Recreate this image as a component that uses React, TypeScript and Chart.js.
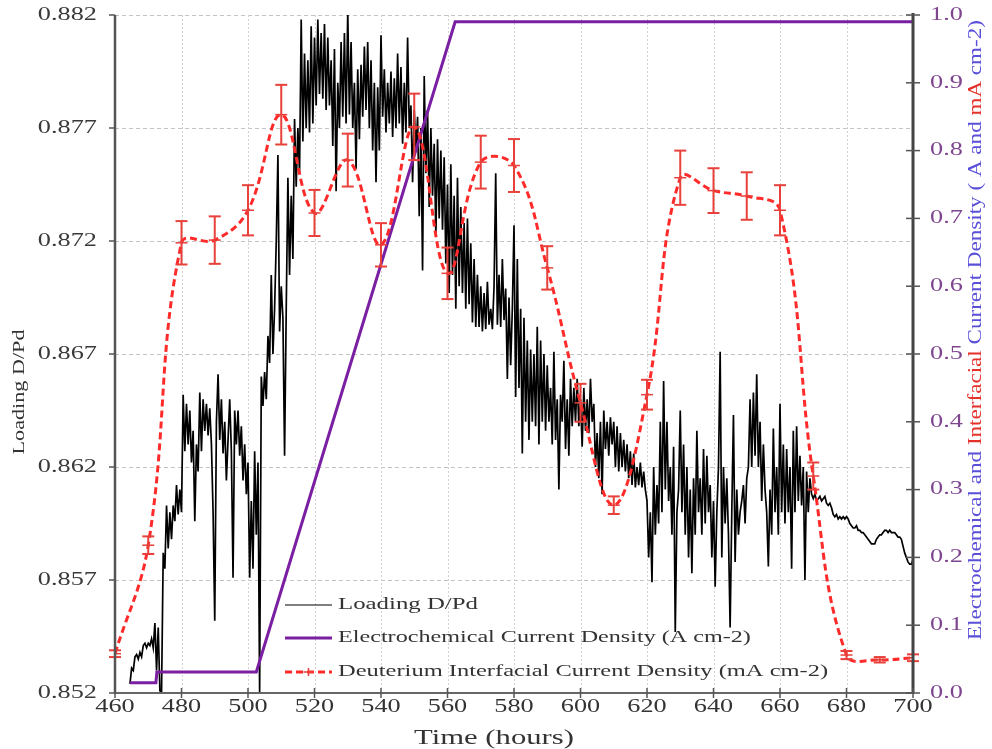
import { useEffect, useRef } from 'react';
import { Chart, registerables } from 'chart.js';

Chart.register(...registerables);

// ---- axis ticks ----
const TIME_TICKS = [460, 480, 500, 520, 540, 560, 580, 600, 620, 640, 660, 680, 700];
const LOADING_TICKS = [0.852, 0.857, 0.862, 0.867, 0.872, 0.877, 0.882];
const CURRENT_TICKS = [0, 0.1, 0.2, 0.3, 0.4, 0.5, 0.6, 0.7, 0.8, 0.9, 1.0];

// ---- Loading D/Pd, sampled every half hour from 464.5 h ----
const LOADING_START = 464.5;
const LOADING_STEP = 0.5;
const LOADING = [
  0.8524,
  /* 465 */ 0.8531, 0.8530, 0.8536, 0.8537, 0.8535, 0.8538, 0.8536, 0.8541, 0.8542, 0.8540,
  /* 470 */ 0.8542, 0.8541, 0.8544, 0.8540, 0.8551, 0.8530, 0.8549, 0.8521, 0.8520, 0.8582,
  /* 475 */ 0.8575, 0.8603, 0.8584, 0.8600, 0.8588, 0.8603, 0.8596, 0.8612, 0.8599, 0.8610,
  /* 480 */ 0.8600, 0.8652, 0.8627, 0.8648, 0.8630, 0.8645, 0.8622, 0.8636, 0.8596, 0.8630,
  /* 485 */ 0.8618, 0.8653, 0.8627, 0.8650, 0.8636, 0.8648, 0.8634, 0.8646, 0.8630, 0.8600,
  /* 490 */ 0.8552, 0.8640, 0.8661, 0.8632, 0.8650, 0.8626, 0.8640, 0.8614, 0.8632, 0.8650,
  /* 495 */ 0.8627, 0.8571, 0.8645, 0.8630, 0.8645, 0.8625, 0.8638, 0.8614, 0.8630, 0.8608,
  /* 500 */ 0.8622, 0.8571, 0.8605, 0.8575, 0.8627, 0.8590, 0.8622, 0.8520, 0.8660, 0.8647,
  /* 505 */ 0.8662, 0.8650, 0.8678, 0.8666, 0.8705, 0.8670, 0.8690, 0.8720, 0.8758, 0.8680,
  /* 510 */ 0.8700, 0.8686, 0.8625, 0.8690, 0.8748, 0.8705, 0.8740, 0.8712, 0.8774, 0.8744,
  /* 515 */ 0.8770, 0.8750, 0.8818, 0.8764, 0.8803, 0.8770, 0.8800, 0.8768, 0.8815, 0.8772,
  /* 520 */ 0.8810, 0.8780, 0.8818, 0.8785, 0.8812, 0.8783, 0.8816, 0.8778, 0.8810, 0.8780,
  /* 525 */ 0.8800, 0.8762, 0.8805, 0.8742, 0.8790, 0.8770, 0.8808, 0.8775, 0.8812, 0.8772,
  /* 530 */ 0.8822, 0.8776, 0.8808, 0.8770, 0.8790, 0.8752, 0.8796, 0.8765, 0.8798, 0.8775,
  /* 535 */ 0.8806, 0.8778, 0.8808, 0.8770, 0.8800, 0.8760, 0.8790, 0.8746, 0.8788, 0.8760,
  /* 540 */ 0.8811, 0.8775, 0.8796, 0.8768, 0.8790, 0.8772, 0.8795, 0.8766, 0.8792, 0.8770,
  /* 545 */ 0.8803, 0.8772, 0.8797, 0.8763, 0.8790, 0.8768, 0.8810, 0.8770, 0.8780, 0.8746,
  /* 550 */ 0.8778, 0.8760, 0.8775, 0.8731, 0.8770, 0.8707, 0.8793, 0.8750, 0.8778, 0.8735,
  /* 555 */ 0.8770, 0.8740, 0.8763, 0.8722, 0.8765, 0.8730, 0.8760, 0.8725, 0.8757, 0.8710,
  /* 560 */ 0.8745, 0.8697, 0.8754, 0.8705, 0.8740, 0.8690, 0.8748, 0.8700, 0.8735, 0.8697,
  /* 565 */ 0.8728, 0.8690, 0.8730, 0.8692, 0.8719, 0.8684, 0.8712, 0.8682, 0.8705, 0.8682,
  /* 570 */ 0.8700, 0.8680, 0.8697, 0.8681, 0.8702, 0.8683, 0.8690, 0.8681, 0.8700, 0.8750,
  /* 575 */ 0.8683, 0.8705, 0.8682, 0.8712, 0.8685, 0.8699, 0.8659, 0.8695, 0.8665, 0.8690,
  /* 580 */ 0.8727, 0.8651, 0.8712, 0.8655, 0.8690, 0.8626, 0.8686, 0.8640, 0.8676, 0.8632,
  /* 585 */ 0.8672, 0.8640, 0.8670, 0.8638, 0.8682, 0.8630, 0.8676, 0.8640, 0.8670, 0.8636,
  /* 590 */ 0.8665, 0.8640, 0.8655, 0.8630, 0.8671, 0.8632, 0.8650, 0.8610, 0.8652, 0.8640,
  /* 595 */ 0.8667, 0.8628, 0.8650, 0.8625, 0.8659, 0.8638, 0.8655, 0.8640, 0.8659, 0.8638,
  /* 600 */ 0.8650, 0.8629, 0.8655, 0.8636, 0.8650, 0.8635, 0.8659, 0.8640, 0.8648, 0.8620,
  /* 605 */ 0.8635, 0.8615, 0.8640, 0.8608, 0.8645, 0.8628, 0.8640, 0.8625, 0.8642, 0.8630,
  /* 610 */ 0.8640, 0.8620, 0.8638, 0.8618, 0.8635, 0.8620, 0.8632, 0.8618, 0.8630, 0.8615,
  /* 615 */ 0.8627, 0.8612, 0.8626, 0.8611, 0.8620, 0.8612, 0.8622, 0.8611, 0.8618, 0.8610,
  /* 620 */ 0.8605, 0.8580, 0.8600, 0.8569, 0.8620, 0.8590, 0.8612, 0.8595, 0.8640, 0.8600,
  /* 625 */ 0.8658, 0.8610, 0.8640, 0.8605, 0.8620, 0.8590, 0.8629, 0.8547, 0.8600, 0.8610,
  /* 630 */ 0.8645, 0.8600, 0.8630, 0.8590, 0.8620, 0.8580, 0.8610, 0.8573, 0.8615, 0.8590,
  /* 635 */ 0.8636, 0.8600, 0.8615, 0.8590, 0.8628, 0.8595, 0.8625, 0.8600, 0.8612, 0.8580,
  /* 640 */ 0.8605, 0.8567, 0.8600, 0.8620, 0.8671, 0.8580, 0.8620, 0.8595, 0.8615, 0.8590,
  /* 645 */ 0.8549, 0.8600, 0.8643, 0.8578, 0.8610, 0.8590, 0.8600, 0.8605, 0.8612, 0.8595,
  /* 650 */ 0.8615, 0.8620, 0.8650, 0.8620, 0.8653, 0.8625, 0.8661, 0.8620, 0.8640, 0.8605,
  /* 655 */ 0.8630, 0.8610, 0.8600, 0.8576, 0.8610, 0.8590, 0.8637, 0.8600, 0.8620, 0.8590,
  /* 660 */ 0.8648, 0.8600, 0.8630, 0.8595, 0.8628, 0.8600, 0.8620, 0.8575, 0.8636, 0.8600,
  /* 665 */ 0.8638, 0.8605, 0.8625, 0.8603, 0.8620, 0.8570, 0.8618, 0.8600, 0.8615, 0.8608,
  /* 670 */ 0.8606, 0.8608, 0.8605, 0.8606, 0.8607, 0.8605, 0.8606, 0.8607, 0.8604, 0.8603,
  /* 675 */ 0.8604, 0.8602, 0.8599, 0.8598, 0.8599, 0.8597, 0.8598, 0.8597, 0.8598, 0.8597,
  /* 680 */ 0.8598, 0.8597, 0.8595, 0.8594, 0.8593, 0.8593, 0.8594, 0.8592, 0.8592, 0.8591,
  /* 685 */ 0.8591, 0.8590, 0.8589, 0.8588, 0.8587, 0.8586, 0.8586, 0.8586, 0.8588, 0.8589,
  /* 690 */ 0.8590, 0.8590, 0.8591, 0.8592, 0.8592, 0.8591, 0.8592, 0.8591, 0.8591, 0.8591,
  /* 695 */ 0.8590, 0.8589, 0.8589, 0.8588, 0.8585, 0.8582, 0.8580, 0.8578, 0.8577, 0.8577,
  0.8579,
];

// ---- electrochemical current density (A cm-2) ----
const ELECTRO_TIME = [464.5, 472.3, 472.6, 502.5, 562.3, 700];
const ELECTRO_CURRENT = [0.015, 0.015, 0.031, 0.031, 0.99, 0.99];

// ---- deuterium interfacial current density (mA cm-2) with error ----
const INTERFACIAL_TIME = [460, 470, 480, 490, 500, 510, 520, 530, 540, 550, 560, 570, 580,
  590, 600, 610, 620, 630, 640, 650, 660, 670, 680, 690, 700];
const INTERFACIAL_CURRENT = [0.058, 0.218, 0.664, 0.668, 0.712, 0.853, 0.708, 0.786, 0.661,
  0.835, 0.619, 0.783, 0.778, 0.627, 0.428, 0.277, 0.440, 0.760, 0.741, 0.733, 0.712, 0.320,
  0.056, 0.049, 0.052];
const INTERFACIAL_ERROR = [0.005, 0.013, 0.032, 0.035, 0.037, 0.044, 0.034, 0.039, 0.032,
  0.049, 0.038, 0.039, 0.039, 0.032, 0.028, 0.013, 0.022, 0.040, 0.033, 0.035, 0.037, 0.020,
  0.006, 0.004, 0.005];

const SERIF = '"Liberation Serif", "Times New Roman", serif';
const TEXT_STRETCH = 1.46;
const RED = '#ff2a2a';
const BAR_RED = '#e8403a';
const PURPLE = '#7b1fa2';
const TICK_PURPLE = '#7f4690';
const TITLE_BLUE = '#5a50d8';
const TITLE_RED = '#e4322b';

type Ctx = CanvasRenderingContext2D;

function hText(ctx: Ctx, text: string, x: number, y: number, size: number, color: string,
  align: CanvasTextAlign, sx = TEXT_STRETCH) {
  ctx.save();
  ctx.translate(x, y);
  ctx.scale(sx, 1);
  ctx.font = `${size}px ${SERIF}`;
  ctx.fillStyle = color;
  ctx.textAlign = align;
  ctx.textBaseline = 'middle';
  ctx.fillText(text, 0, 0);
  ctx.restore();
}

// vertical text reading bottom-to-top, centred on (x, y), stretched to a given length
function vText(ctx: Ctx, parts: [string, string][], x: number, y: number, size: number, length: number) {
  ctx.save();
  ctx.font = `${size}px ${SERIF}`;
  const widths = parts.map(([t]) => ctx.measureText(t).width);
  const total = widths.reduce((a, b) => a + b, 0);
  ctx.translate(x, y);
  ctx.rotate(-Math.PI / 2);
  ctx.scale(length / total, 1);
  ctx.textAlign = 'left';
  ctx.textBaseline = 'middle';
  let pos = -total / 2;
  parts.forEach(([t, c], i) => {
    ctx.fillStyle = c;
    ctx.fillText(t, pos, 0);
    pos += widths[i];
  });
  ctx.restore();
}

function seg(ctx: Ctx, x1: number, y1: number, x2: number, y2: number) {
  ctx.beginPath();
  ctx.moveTo(x1, y1);
  ctx.lineTo(x2, y2);
  ctx.stroke();
}

const decorPlugin = {
  id: 'decor',
  beforeDatasetsDraw(chart: any) {
    const { ctx, chartArea: a, scales } = chart;
    const xs = scales.x;
    const yl = scales.y;
    ctx.save();
    ctx.lineWidth = 1;
    ctx.strokeStyle = '#c4c4c4';
    ctx.setLineDash([4, 3]);
    LOADING_TICKS.forEach((t) => {
      if (t === LOADING_TICKS[0]) return;
      const py = Math.round(yl.getPixelForValue(t)) + 0.5;
      seg(ctx, a.left, py, a.right, py);
    });
    ctx.strokeStyle = '#d2d2d2';
    ctx.setLineDash([2, 2]);
    TIME_TICKS.forEach((t, i) => {
      if (i === 0 || i === TIME_TICKS.length - 1) return;
      const px = Math.round(xs.getPixelForValue(t)) + 0.5;
      seg(ctx, px, a.top, px, a.bottom);
    });
    ctx.restore();
  },
  afterDatasetsDraw(chart: any) {
    const { ctx, chartArea: a, scales } = chart;
    const xs = scales.x;
    const yl = scales.y;
    const yr = scales.y1;

    // error bars on the interfacial current density
    const meta = chart.getDatasetMeta(0);
    ctx.save();
    ctx.strokeStyle = BAR_RED;
    ctx.lineWidth = 2;
    meta.data.forEach((el: any, i: number) => {
      const v = INTERFACIAL_CURRENT[i];
      const e = INTERFACIAL_ERROR[i];
      const top = yr.getPixelForValue(v + e);
      const bot = yr.getPixelForValue(v - e);
      seg(ctx, el.x, top, el.x, bot);
      seg(ctx, el.x - 6, top, el.x + 6, top);
      seg(ctx, el.x - 6, bot, el.x + 6, bot);
    });
    ctx.restore();

    // axis lines and tick marks
    ctx.save();
    ctx.strokeStyle = '#555';
    ctx.lineWidth = 2.5;
    seg(ctx, a.left, a.top, a.left, a.bottom + 1);
    ctx.strokeStyle = '#444';
    ctx.lineWidth = 3;
    seg(ctx, a.right, a.top - 2, a.right, a.bottom + 1);
    ctx.strokeStyle = '#666';
    ctx.lineWidth = 2;
    seg(ctx, a.left, a.bottom, a.right, a.bottom);
    ctx.lineWidth = 1.5;
    ctx.strokeStyle = '#555';
    LOADING_TICKS.forEach((t) => {
      const py = yl.getPixelForValue(t);
      seg(ctx, a.left - 6, py, a.left, py);
    });
    CURRENT_TICKS.forEach((t) => {
      const py = yr.getPixelForValue(t);
      seg(ctx, a.right - 7, py, a.right + 7, py);
    });
    TIME_TICKS.forEach((t) => {
      const px = xs.getPixelForValue(t);
      seg(ctx, px, a.bottom - 5, px, a.bottom + 5);
    });
    ctx.restore();

    // tick labels
    LOADING_TICKS.forEach((t) => {
      hText(ctx, t.toFixed(3), a.left - 18, yl.getPixelForValue(t), 18, '#3a3a3a', 'right');
    });
    CURRENT_TICKS.forEach((t) => {
      hText(ctx, t.toFixed(1), a.right + 17, yr.getPixelForValue(t), 18, TICK_PURPLE, 'left');
    });
    TIME_TICKS.forEach((t) => {
      hText(ctx, String(t), xs.getPixelForValue(t), a.bottom + 14, 18, '#333', 'center');
    });

    // axis titles
    hText(ctx, 'Time (hours)', 494, 738, 21, '#333', 'center');
    vText(ctx, [['Loading D/Pd', '#333']], 20, 392, 17, 125);
    vText(ctx, [
      ['Electrochemical and ', TITLE_BLUE],
      ['Interfacial', TITLE_RED],
      [' Current Density ( A and ', TITLE_BLUE],
      ['mA', TITLE_RED],
      [' cm-2)', TITLE_BLUE],
    ], 976, 330, 19, 620);

    // legend
    const lx1 = 285;
    const lx2 = 332;
    const tx = 338;
    const rows = [605, 638, 672];
    ctx.save();
    ctx.strokeStyle = '#000';
    ctx.lineWidth = 1.2;
    seg(ctx, lx1, rows[0], lx2, rows[0]);
    ctx.strokeStyle = PURPLE;
    ctx.lineWidth = 3;
    seg(ctx, lx1, rows[1], lx2, rows[1]);
    ctx.strokeStyle = RED;
    ctx.setLineDash([7, 4]);
    seg(ctx, lx1, rows[2], lx2, rows[2]);
    ctx.setLineDash([]);
    ctx.strokeStyle = BAR_RED;
    ctx.lineWidth = 1.5;
    const mx = (lx1 + lx2) / 2;
    seg(ctx, mx, rows[2] - 4, mx, rows[2] + 4);
    seg(ctx, mx - 5, rows[2], mx + 5, rows[2]);
    ctx.restore();
    hText(ctx, 'Loading D/Pd', tx, rows[0], 17, '#333', 'left');
    hText(ctx, 'Electrochemical Current Density (A cm-2)', tx, rows[1], 17, '#333', 'left', 1.42);
    hText(ctx, 'Deuterium Interfacial Current Density (mA cm-2)', tx, rows[2], 17, '#333', 'left', 1.44);
  },
};

function setTicks(values: number[]) {
  return (scale: any) => {
    scale.ticks = values.map((v) => ({ value: v }));
  };
}

export default function App() {
  const ref = useRef<HTMLCanvasElement>(null);

  useEffect(() => {
    if (!ref.current) return;
    const loadingData = LOADING.map((v, i) => ({ x: LOADING_START + i * LOADING_STEP, y: v }));
    const electroData = ELECTRO_TIME.map((t, i) => ({ x: t, y: ELECTRO_CURRENT[i] }));
    const interfacialData = INTERFACIAL_TIME.map((t, i) => ({ x: t, y: INTERFACIAL_CURRENT[i] }));

    const chart = new Chart(ref.current, {
      type: 'line',
      data: {
        datasets: [
          {
            label: 'Deuterium Interfacial Current Density (mA cm-2)',
            data: interfacialData,
            yAxisID: 'y1',
            borderColor: RED,
            borderWidth: 3,
            borderDash: [7, 4],
            tension: 0.4,
            pointStyle: 'line',
            pointRadius: 6,
            pointBorderColor: BAR_RED,
            pointBorderWidth: 1.5,
            fill: false,
            order: 0,
          },
          {
            label: 'Electrochemical Current Density (A cm-2)',
            data: electroData,
            yAxisID: 'y1',
            borderColor: PURPLE,
            borderWidth: 3,
            pointRadius: 0,
            tension: 0,
            fill: false,
            order: 1,
          },
          {
            label: 'Loading D/Pd',
            data: loadingData,
            yAxisID: 'y',
            borderColor: '#000',
            borderWidth: 1.7,
            pointRadius: 0,
            tension: 0,
            fill: false,
            order: 2,
          },
        ],
      },
      options: {
        responsive: false,
        animation: false,
        events: [],
        layout: { padding: { top: 15, left: 0, right: 0, bottom: 0 } },
        plugins: { legend: { display: false }, tooltip: { enabled: false } },
        scales: {
          x: {
            type: 'linear',
            position: 'bottom',
            min: 460,
            max: 700,
            afterBuildTicks: setTicks(TIME_TICKS),
            ticks: { display: false },
            grid: { display: false },
            border: { display: false },
            afterFit: (s: any) => { s.height = 56; },
          },
          y: {
            type: 'linear',
            position: 'left',
            min: 0.852,
            max: 0.882,
            afterBuildTicks: setTicks(LOADING_TICKS),
            ticks: { display: false },
            grid: { display: false },
            border: { display: false },
            afterFit: (s: any) => { s.width = 115; },
          },
          y1: {
            type: 'linear',
            position: 'right',
            min: 0,
            max: 1,
            afterBuildTicks: setTicks(CURRENT_TICKS),
            ticks: { display: false },
            grid: { display: false },
            border: { display: false },
            afterFit: (s: any) => { s.width = 79; },
          },
        },
      },
      plugins: [decorPlugin],
    } as any);

    return () => chart.destroy();
  }, []);

  return (
    <div style={{ position: 'absolute', left: 0, top: 0, width: 992, height: 749, background: '#fff' }}>
      <canvas ref={ref} width={992} height={749} style={{ display: 'block' }} />
    </div>
  );
}
